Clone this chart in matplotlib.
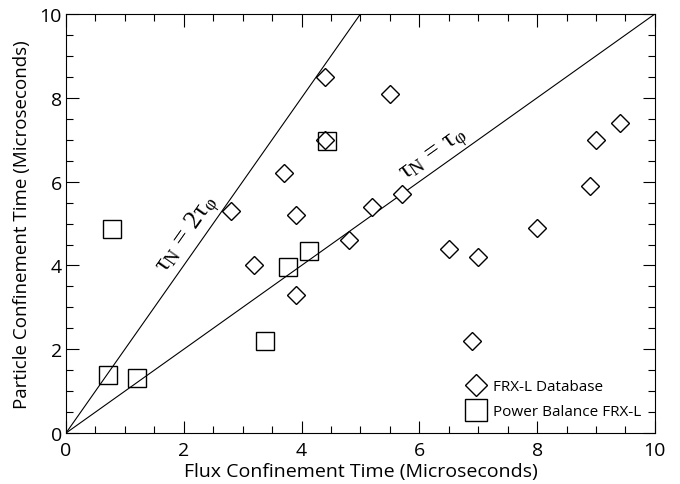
import matplotlib.pyplot as plt
import numpy as np
from matplotlib.ticker import MultipleLocator

# FRX-L database points (flux time, particle time)
db_x = [2.8, 3.2, 3.7, 3.9, 3.9, 4.4, 4.4, 4.8, 5.2, 5.5, 5.7, 6.5, 7.0, 6.9, 8.0, 8.9, 9.0, 9.4]
db_y = [5.3, 4.0, 6.2, 5.2, 3.3, 8.5, 7.0, 4.6, 5.4, 8.1, 5.7, 4.4, 4.2, 2.2, 4.9, 5.9, 7.0, 7.4]

# power balance points
pb_x = [0.72, 0.79, 1.21, 3.38, 3.77, 4.13, 4.43]
pb_y = [1.39, 4.87, 1.31, 2.19, 3.97, 4.34, 6.98]

line_x = [0, 10]

plt.rcParams['font.family'] = ['Open Sans', 'DejaVu Sans']
plt.rcParams['mathtext.fontset'] = 'custom'
plt.rcParams['mathtext.rm'] = 'Liberation Serif'
plt.rcParams['mathtext.it'] = 'Liberation Serif:italic'
fig = plt.figure(figsize=(6.8, 4.85), dpi=100)
ax = fig.add_axes([0.097, 0.105, 0.866, 0.864])

ax.plot(line_x, [v * 1.0 for v in line_x], color='black', lw=0.8)
ax.plot([0, 5], [0, 10], color='black', lw=0.8)

ax.plot(db_x, db_y, 'D', ms=9.2, mfc='white', mec='black', mew=1.0, label='FRX-L Database')
ax.plot(pb_x, pb_y, 's', ms=13, mfc='none', mec='black', mew=1.0, label='Power Balance FRX-L')

lab1 = r'$\mathrm{\tau}_\mathrm{N}\,\mathrm{=}\,\mathrm{2\tau}_\mathrm{\varphi}$'
lab2 = r'$\mathrm{\tau}_\mathrm{N}\,\mathrm{=}\,\mathrm{\tau}_\mathrm{\varphi}$'
ax.text(2.28, 4.56, lab1, rotation=54.9, rotation_mode='anchor',
        ha='center', va='bottom', fontsize=19)
ax.text(6.38, 6.38, lab2, rotation=35.4, rotation_mode='anchor',
        ha='center', va='bottom', fontsize=19)

ax.set_xlim(0, 10)
ax.set_ylim(0, 10)
ax.xaxis.set_major_locator(MultipleLocator(2))
ax.yaxis.set_major_locator(MultipleLocator(2))
ax.xaxis.set_minor_locator(MultipleLocator(0.5))
ax.yaxis.set_minor_locator(MultipleLocator(0.5))
ax.tick_params(which='both', direction='in', top=True, right=True, labelsize=14)
ax.tick_params(axis='x', pad=6)
ax.tick_params(axis='y', pad=3)
ax.tick_params(which='major', length=9, width=0.8)
ax.tick_params(which='minor', length=5, width=0.8)

ax.set_xlabel('Flux Confinement Time (Microseconds)', fontsize=14, labelpad=2)
ax.set_ylabel('Particle Confinement Time (Microseconds)', fontsize=13.5, labelpad=6)

ax.legend(loc='lower right', frameon=False, fontsize=11, markerscale=1.2,
          handletextpad=0.1, borderaxespad=0.5, labelspacing=0.65)

fig.savefig('out.png', dpi=100)
